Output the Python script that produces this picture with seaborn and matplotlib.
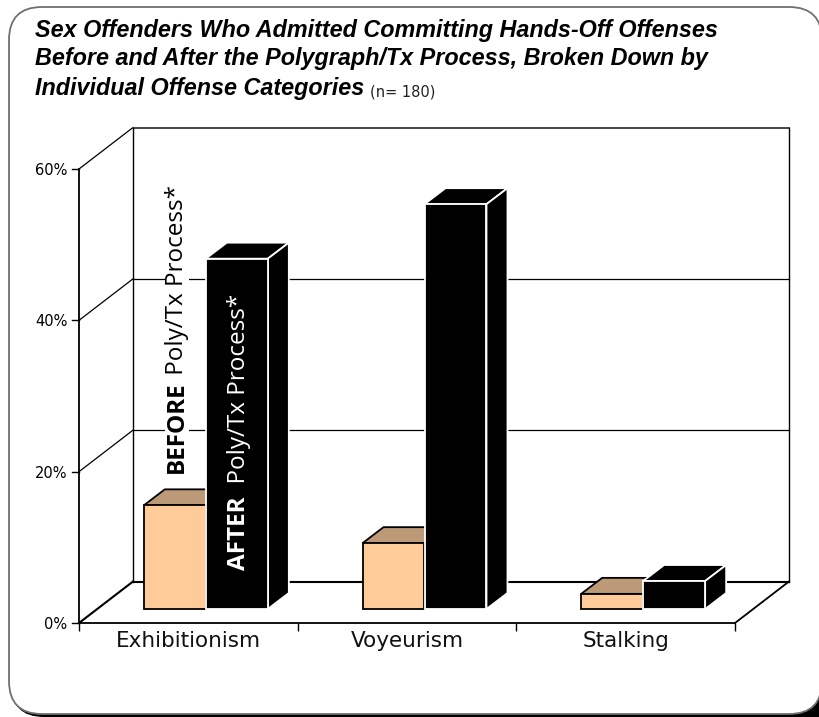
import matplotlib
matplotlib.use("Agg")
import matplotlib.pyplot as plt
import pandas as pd
import seaborn as sns
from matplotlib.lines import Line2D
from matplotlib.patches import FancyBboxPatch, Polygon
from matplotlib.transforms import Affine2D, IdentityTransform

# data
categories = ["Exhibitionism", "Voyeurism", "Stalking"]
before_values = [13.7, 8.7, 2.0]
after_values = [46.3, 53.5, 3.7]
y_ticks = [0, 20, 40, 60]
title_lines = [
    "Sex Offenders Who Admitted Committing Hands-Off Offenses",
    "Before and After the Polygraph/Tx Process, Broken Down by",
    "Individual Offense Categories",
]

W, H = 819, 717
ORANGE = "#FFCC99"
TAN = "#BC9A78"

# pixel offsets of the fake 3D
WALL_DX, WALL_DY = 54, 41.5
BAR_DX, BAR_DY = 17.5, 14
DEPTH_DX, DEPTH_DY = 21, 16

sns.set_theme(style="white")
plt.rcParams["font.family"] = ["DejaVu Sans"]

fig = plt.figure(figsize=(W / 100, H / 100), dpi=100, facecolor="white")
ident = IdentityTransform()

# rounded frame with black shadow, corners run off the right edge like the original
RAD = 33
fig.patches.append(FancyBboxPatch((11 + RAD, RAD), 860, H - 100 - 2 * RAD,
                                  boxstyle=f"round,pad={RAD},rounding_size={RAD}",
                                  fc="black", ec="none", transform=ident, figure=fig, zorder=0))
fig.patches.append(FancyBboxPatch((9 + RAD, 3 + RAD), 822 - 9 - 2 * RAD, 710 - 3 - 2 * RAD,
                                  boxstyle=f"round,pad={RAD},rounding_size={RAD}",
                                  fc="white", ec="#707070", lw=1.3, transform=ident, figure=fig, zorder=1))

ax = fig.add_axes([79 / W, (H - 623) / H, 656 / W, 454 / H], facecolor="none", zorder=2)

df = pd.DataFrame({
    "category": categories * 2,
    "value": before_values + after_values,
    "when": ["before"] * 3 + ["after"] * 3,
})
sns.barplot(data=df, x="category", y="value", hue="when", palette=[ORANGE, "black"],
            width=0.567, gap=0, saturation=1, legend=False, ax=ax)

ax.set_xlim(-0.5, 2.5)
ax.set_ylim(0, 60)
ax.set_xlabel("")
ax.set_ylabel("")
ax.set_yticks(y_ticks, [f"{v}%" for v in y_ticks])
ax.set_xticks([-0.5, 0.5, 1.5, 2.5], minor=True)
sns.despine(ax=ax, top=True, right=True)
ax.tick_params(axis="y", which="major", left=False, length=5.5, labelsize=10.5, pad=3, labelcolor="black")
ax.tick_params(axis="x", which="major", bottom=False, length=0, labelsize=15.5, pad=6, labelcolor="#111111")
ax.tick_params(axis="x", which="minor", bottom=True, length=6, width=1, color="black")
for side in ["left", "bottom"]:
    ax.spines[side].set_color("black")
    ax.spines[side].set_linewidth(1.3)


def px(x, y):
    return ax.transData.transform((x, y))


def add_line(p0, p1, lw=1.0, color="black", z=1.5):
    ax.add_line(Line2D([p0[0], p1[0]], [p0[1], p1[1]], transform=ident, color=color, lw=lw,
                       clip_on=False, zorder=z, solid_capstyle="projecting"))


wall = (WALL_DX, WALL_DY)
# walls, gridlines, and the little ticks on the front axis
for v in y_ticks:
    x0, y0 = px(-0.5, v)
    x1, y1 = px(2.5, v)
    lw = 1.5 if v == 0 else 0.9
    add_line((x0 - 7, y0), (x0, y0), lw=1.0)
    add_line((x0, y0), (x0 + wall[0], y0 + wall[1]), lw=lw)
    add_line((x0 + wall[0], y0 + wall[1]), (x1 + wall[0], y1 + wall[1]),
             lw=1.4 if v == 60 else lw, color="#444444" if v == 60 else "black")
x0, y0 = px(-0.5, 0)
x1, y1 = px(-0.5, 60)
add_line((x0 + wall[0], y0 + wall[1]), (x1 + wall[0], y1 + wall[1]), lw=1.0)
x0, y0 = px(2.5, 0)
x1, y1 = px(2.5, 60)
add_line((x0 + wall[0], y0 + wall[1]), (x1 + wall[0], y1 + wall[1]), lw=1.0)
add_line((x0, y0), (x0 + wall[0], y0 + wall[1]), lw=1.3)

# bars: move to their plane and add top and side faces
to_bar = ax.transData + Affine2D().translate(BAR_DX, BAR_DY)
bars = [p for p in ax.patches]
for i, bar in enumerate(bars):
    is_before = i < 3
    edge = "black" if is_before else "white"
    z = 3 if is_before else 4
    bar.set_transform(to_bar)
    bar.set_clip_on(False)
    bar.set_edgecolor(edge)
    bar.set_linewidth(1.3)
    bar.set_zorder(z + 0.2)
    xa, xb = bar.get_x(), bar.get_x() + bar.get_width()
    h = bar.get_height()
    (ax0, ay0), (ax1, ay1) = to_bar.transform((xa, h)), to_bar.transform((xb, h))
    bx, by = to_bar.transform((xb, 0))
    top = [(ax0, ay0), (ax1, ay1), (ax1 + DEPTH_DX, ay1 + DEPTH_DY), (ax0 + DEPTH_DX, ay0 + DEPTH_DY)]
    side = [(bx, by), (ax1, ay1), (ax1 + DEPTH_DX, ay1 + DEPTH_DY), (bx + DEPTH_DX, by + DEPTH_DY)]
    ax.add_patch(Polygon(top, closed=True, fc=TAN if is_before else "black", ec=edge, lw=1.3,
                         transform=ident, clip_on=False, zorder=z))
    ax.add_patch(Polygon(side, closed=True, fc=TAN if is_before else "black", ec=edge, lw=1.3,
                         transform=ident, clip_on=False, zorder=z))

# labels written along the first two bars
before_bar, after_bar = bars[0], bars[3]
bx = before_bar.get_x() + before_bar.get_width() / 2
before_lab = ax.annotate("BEFORE", xy=(bx, 0), xycoords=to_bar, xytext=(2, 136), textcoords="offset pixels",
                         rotation=90, ha="center", va="bottom", fontsize=17.5, fontweight="bold",
                         family="Open Sans", color="black", zorder=2,
                         bbox=dict(fc="white", ec="none", pad=0))
ax.annotate(" Poly/Tx Process*", xy=(0.5, 1), xycoords=before_lab, rotation=90, ha="center", va="bottom",
            fontsize=17.5, family="Open Sans", color="black", zorder=2,
            bbox=dict(fc="white", ec="none", pad=0))
ax_mid = after_bar.get_x() + after_bar.get_width() / 2
after_lab = ax.annotate("AFTER", xy=(ax_mid, 0), xycoords=to_bar, xytext=(2.5, 39), textcoords="offset pixels",
                        rotation=90, ha="center", va="bottom", fontsize=17.5, fontweight="bold",
                        family="Open Sans", color="white", zorder=6)
ax.annotate("  Poly/Tx Process*", xy=(0.5, 1), xycoords=after_lab, rotation=90, ha="center", va="bottom",
            fontsize=17.5, family="Open Sans", color="white", zorder=6)

# title, three lines
for line, y_px in zip(title_lines, [30, 59, 88]):
    last = fig.text(35 / W, 1 - y_px / H, line, ha="left", va="center", fontsize=16.8, fontweight="bold",
                    fontstyle="italic", family="Liberation Sans", color="black", zorder=5)
ax.annotate("(n= 180)", xy=(1, 0), xycoords=last, xytext=(6, 0), textcoords="offset pixels",
            ha="left", va="bottom", fontsize=10.5, color="#222222")

fig.savefig("out.png", dpi=100, facecolor="white")
